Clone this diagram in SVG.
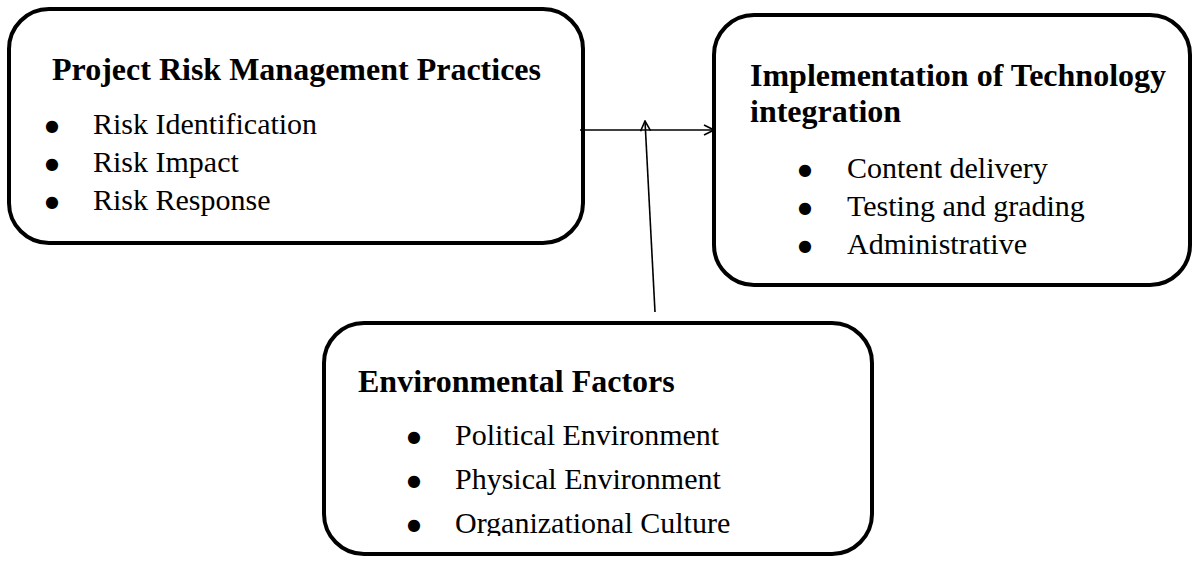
<svg xmlns="http://www.w3.org/2000/svg" width="1196" height="561" viewBox="0 0 1196 561">
<style>
.box{fill:#fff;stroke:#000;stroke-width:4}
.h{font-family:"Liberation Serif","Times New Roman",serif;font-weight:bold;font-size:32px;fill:#000}
.t{font-family:"Liberation Serif","Times New Roman",serif;font-size:30px;fill:#000}
.b{font-family:"DejaVu Sans",sans-serif;font-size:16px;fill:#000;text-anchor:middle}
.con{stroke:#000;stroke-width:1.6;fill:none}
</style>
<defs>
<marker id="open" viewBox="0 0 12 12" refX="11" refY="6" markerWidth="12" markerHeight="12" markerUnits="userSpaceOnUse" orient="auto">
<path d="M1 1 L11 6 L1 11" fill="none" stroke="#000" stroke-width="1.6"/>
</marker>
<clipPath id="clip3"><rect x="323" y="322" width="549" height="214"/></clipPath>
</defs>
<g id="node-risk">
<rect class="box" x="9" y="9" width="574" height="234" rx="40"/>
<text class="h" x="52" y="80">Project Risk Management Practices</text>
<text class="b" x="52" y="131">●</text><text class="t" x="93" y="134">Risk Identification</text>
<text class="b" x="52" y="169">●</text><text class="t" x="93" y="172">Risk Impact</text>
<text class="b" x="52" y="207">●</text><text class="t" x="93" y="210">Risk Response</text>
</g>
<g id="node-tech">
<rect class="box" x="714" y="15" width="476" height="270" rx="40"/>
<text class="h" x="750" y="86">Implementation of Technology</text>
<text class="h" x="750" y="122">integration</text>
<text class="b" x="805" y="175">●</text><text class="t" x="847" y="178">Content delivery</text>
<text class="b" x="805" y="213">●</text><text class="t" x="847" y="216">Testing and grading</text>
<text class="b" x="805" y="251">●</text><text class="t" x="847" y="254">Administrative</text>
</g>
<g id="node-env">
<rect class="box" x="324" y="323" width="548" height="231" rx="40"/>
<text class="h" x="358" y="392">Environmental Factors</text>
<g clip-path="url(#clip3)">
<text class="b" x="414" y="442">●</text><text class="t" x="455" y="445">Political Environment</text>
<text class="b" x="414" y="486">●</text><text class="t" x="455" y="489">Physical Environment</text>
<text class="b" x="414" y="530">●</text><text class="t" x="455" y="533">Organizational Culture</text>
</g>
</g>
<g id="connectors">
<line class="con" x1="580" y1="130" x2="714" y2="130" marker-end="url(#open)"/>
<line class="con" x1="655" y1="312" x2="645" y2="121" marker-end="url(#open)"/>
</g>
</svg>
